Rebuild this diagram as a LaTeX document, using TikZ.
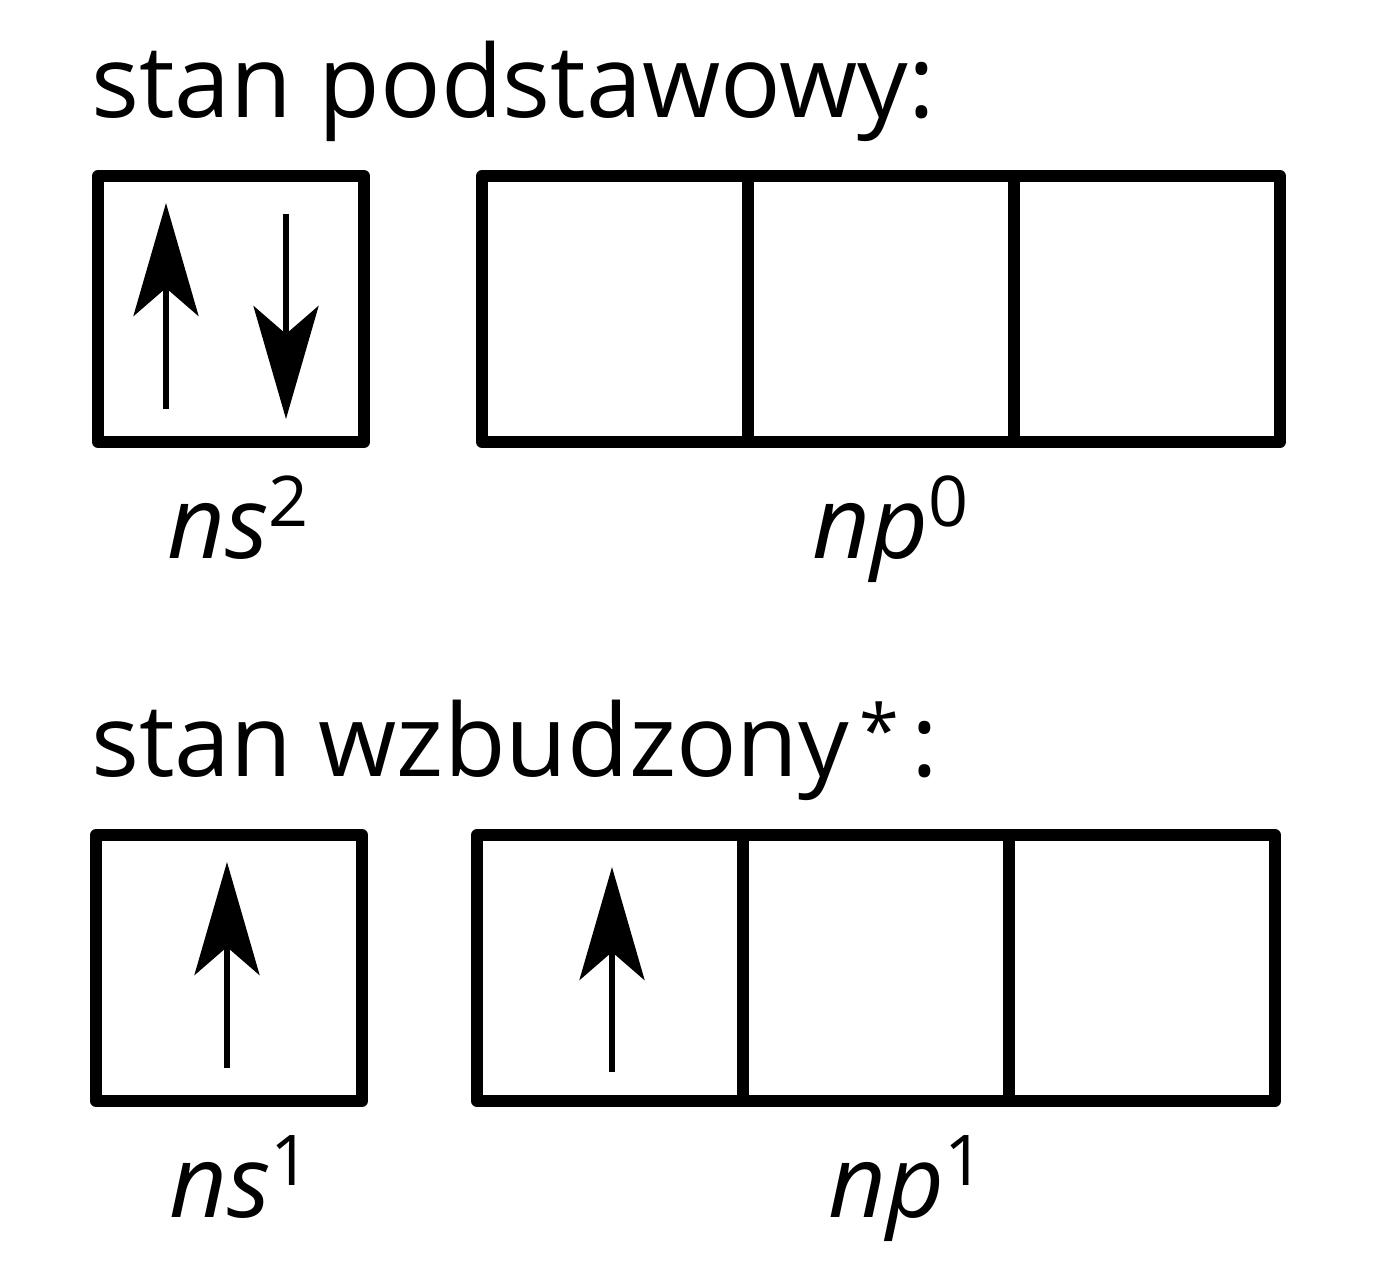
\documentclass[tikz,border=0pt]{standalone}
\usepackage{fontspec}
\setmainfont{Open Sans}
\usepackage{tikz}
\usetikzlibrary{arrows.meta, positioning, calc}

\newcommand{\sizebig}{\fontsize{50.3}{60}\selectfont}
\newcommand{\supnum}[1]{\raisebox{16pt}{\upshape\fontsize{35}{35}\selectfont #1}}
\newcommand{\starmark}{\raisebox{10pt}{\fontsize{36}{36}\selectfont *}}

\begin{document}
\begin{tikzpicture}[x=0.5pt, y=-0.5pt,
    orb/.style={draw, line width=6pt, line join=round, rectangle, minimum size=133pt, outer sep=0pt, inner sep=0pt},
    spin/.style={line width=3pt, -{Stealth[length=56.5pt, width=32.5pt, inset=14pt]}},
    lbl/.style={anchor=base west, inner sep=0pt, font=\sizebig}
]
    \useasboundingbox (0,0) rectangle (1379,1270);

    % Ground state
    \node[lbl] (title1) at (91,117) {stan podstawowy:};
    \node[orb] (s1) at (231,309) {};
    \node[orb] (p1) at (615,309) {};
    \node[orb, right=0pt of p1] (p2) {};
    \node[orb, right=0pt of p2] (p3) {};
    \node[lbl] (lbls1) at (167,558) {\itshape ns\/\supnum{2}};
    \node[lbl] (lblp1) at (812,558) {\itshape np\/\supnum{0}};

    % Spins
    \draw[spin] ($(s1.center)+(-65,100)$) -- ($(s1.center)+(-65,-106)$);
    \draw[spin] ($(s1.center)+(55,-95)$) -- ($(s1.center)+(55,110)$);

    % Excited state
    \node[lbl] (title2) at (91,776) {stan wzbudzony\kern5pt\starmark\kern6pt:};
    \node[orb] (s2) at (229,968) {};
    \node[orb] (q1) at (610,968) {};
    \node[orb, right=0pt of q1] (q2) {};
    \node[orb, right=0pt of q2] (q3) {};
    \node[lbl] (lbls2) at (169,1217) {\itshape ns\/\supnum{1}};
    \node[lbl] (lblq1) at (828,1217) {\itshape np\/\supnum{1}};

    % Spins
    \draw[spin] ($(s2.center)+(-2,100)$) -- ($(s2.center)+(-2,-106)$);
    \draw[spin] ($(q1.center)+(2,104)$) -- ($(q1.center)+(2,-101)$);
\end{tikzpicture}
\end{document}
